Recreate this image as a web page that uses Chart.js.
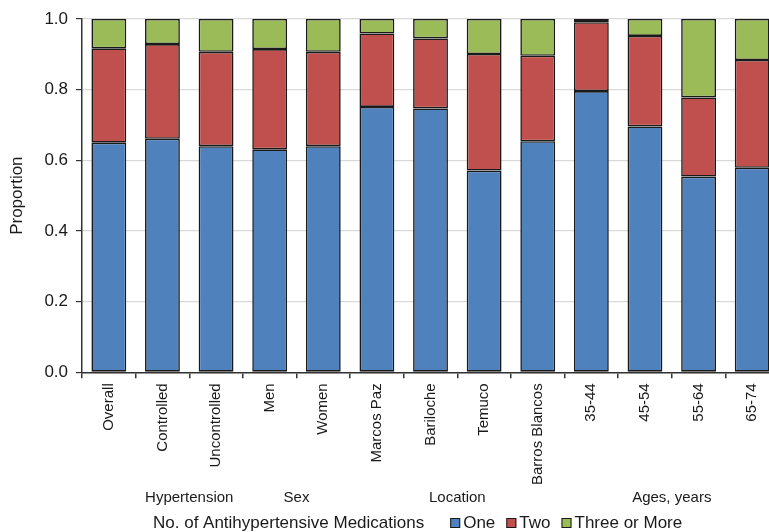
<!DOCTYPE html>
<html>
<head>
<meta charset="utf-8">
<script src="https://cdn.jsdelivr.net/npm/chart.js@4"></script>
<style>
html, body { margin: 0; padding: 0; background: #fff; overflow: hidden; }
#wrap { width: 785px; height: 532px; }
</style>
</head>
<body>
<div id="wrap"><canvas id="medsChart"></canvas></div>
<script>
const categories = ['Overall', 'Controlled', 'Uncontrolled', 'Men', 'Women', 'Marcos Paz', 'Bariloche',
    'Temuco', 'Barros Blancos', '35-44', '45-54', '55-64', '65-74'];
const oneMed = [0.650, 0.661, 0.640, 0.631, 0.640, 0.751, 0.747, 0.571, 0.654, 0.796, 0.696, 0.554, 0.579];
const twoMeds = [0.267, 0.268, 0.267, 0.284, 0.267, 0.208, 0.198, 0.330, 0.242, 0.195, 0.256, 0.224, 0.305];
const threeMeds = [0.083, 0.071, 0.093, 0.085, 0.093, 0.041, 0.055, 0.099, 0.104, 0.009, 0.048, 0.222, 0.116];
const yTicks = [0, 0.2, 0.4, 0.6, 0.8, 1.0];

// groups drawn under the tick labels (first and last category index)
const groupLabels = ['Hypertension', 'Sex', 'Location', 'Ages, years'];
const groupFrom = [1, 3, 5, 9];
const groupTo = [2, 4, 8, 12];

const legendTitle = 'No. of Antihypertensive Medications';
const FONT = '"Liberation Sans", Arial, Helvetica, sans-serif';

const extraLabels = {
    id: 'extraLabels',
    afterDraw(chart) {
        const c = chart.ctx;
        const xs = chart.scales.x;
        c.save();
        c.fillStyle = '#1a1a1a';
        c.font = '15px ' + FONT;
        c.textAlign = 'center';
        c.textBaseline = 'middle';
        groupLabels.forEach((lab, i) => {
            const x = (xs.getPixelForValue(groupFrom[i]) + xs.getPixelForValue(groupTo[i])) / 2;
            c.fillText(lab, x, xs.bottom + 8);
        });

        // legend line with its title
        c.font = '17px ' + FONT;
        c.textAlign = 'left';
        const ly = chart.height - 9;
        let lx = 153;
        c.fillText(legendTitle, lx, ly);
        lx += c.measureText(legendTitle).width + 26;
        chart.data.datasets.forEach(ds => {
            c.fillStyle = ds.backgroundColor;
            c.fillRect(lx, ly - 5, 10, 10);
            c.strokeStyle = '#1a1a1a';
            c.lineWidth = 1;
            c.strokeRect(lx + 0.5, ly - 4.5, 9, 9);
            c.fillStyle = '#1a1a1a';
            c.fillText(ds.label, lx + 13, ly);
            lx += 13 + c.measureText(ds.label).width + 11;
        });
        c.restore();
    }
};

const ctx = document.getElementById('medsChart').getContext('2d');
const medsChart = new Chart(ctx, {
    type: 'bar',
    data: {
        labels: categories,
        datasets: [
            { label: 'One', data: oneMed, backgroundColor: '#4f81bd' },
            { label: 'Two', data: twoMeds, backgroundColor: '#c0504d' },
            { label: 'Three or More', data: threeMeds, backgroundColor: '#9bbb59' }
        ].map(d => Object.assign(d, {
            borderColor: '#1a1a1a',
            borderWidth: 1.6,
            borderSkipped: false,
            categoryPercentage: 1,
            barPercentage: 0.65
        }))
    },
    options: {
        responsive: true,
        maintainAspectRatio: false,
        animation: false,
        layout: { padding: { top: 19, right: 6, bottom: 42, left: 7 } },
        plugins: {
            legend: { display: false },
            tooltip: { enabled: false }
        },
        scales: {
            x: {
                stacked: true,
                offset: true,
                grid: {
                    offset: true,
                    drawOnChartArea: false,
                    tickLength: 6,
                    tickColor: '#333',
                    lineWidth: 1.5
                },
                border: { color: '#333', width: 1.5 },
                ticks: {
                    minRotation: 90,
                    maxRotation: 90,
                    autoSkip: false,
                    padding: 5,
                    color: '#1a1a1a',
                    font: { family: FONT, size: 15 }
                }
            },
            y: {
                stacked: true,
                min: 0,
                max: 1,
                afterBuildTicks: axis => { axis.ticks = yTicks.map(v => ({ value: v })); },
                grid: {
                    color: '#d9d9d9',
                    tickColor: '#333',
                    tickLength: 6,
                    lineWidth: 1.2
                },
                border: { color: '#333', width: 1.5 },
                ticks: {
                    padding: 8,
                    color: '#1a1a1a',
                    font: { family: FONT, size: 17 },
                    callback: v => v.toFixed(1)
                },
                title: {
                    display: true,
                    text: 'Proportion',
                    color: '#1a1a1a',
                    padding: { top: 0, bottom: 9 },
                    font: { family: FONT, size: 17 }
                }
            }
        }
    },
    plugins: [extraLabels]
});
</script>
</body>
</html>
